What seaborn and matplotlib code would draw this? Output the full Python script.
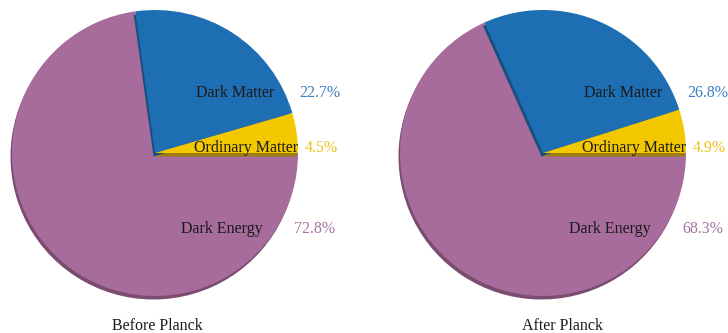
import matplotlib
matplotlib.use("Agg")
import matplotlib.pyplot as plt
import seaborn as sns

# Composition of the universe, in percent
categories = ["Ordinary Matter", "Dark Matter", "Dark Energy"]
before_planck = [4.5, 22.7, 72.8]
after_planck = [4.9, 26.8, 68.3]
panel_titles = ["Before Planck", "After Planck"]

sns.set_theme(style="white")
plt.rcParams["font.family"] = ["Liberation Serif", "DejaVu Serif"]

face_colors = ["#F3C800", "#1D6EB2", "#A76C9B"]
side_colors = ["#9C7E0C", "#15507F", "#7A4C70"]
pct_colors = ["#EFC21C", "#3C80C0", "#A872A2"]

W, H = 728, 333
fig = plt.figure(figsize=(W / 100, H / 100), dpi=100)
ax = fig.add_axes([0, 0, 1, 1])
ax.set_xlim(0, W)
ax.set_ylim(0, H)
ax.set_aspect("equal")
ax.axis("off")

radius = 143
centers = [(155, H - 153), (543, H - 153)]
title_x = [157, 562]
side_offset = (-1.5, -3.5)

# label offsets from the pie centre (x right, y up)
name_offsets = {"Dark Matter": (80, 60), "Ordinary Matter": (91, 5), "Dark Energy": (67, -76)}
pct_offsets = {"Dark Matter": (165, 60), "Ordinary Matter": (166, 5), "Dark Energy": (160, -76)}

for values, title, (cx, cy), tx in zip([before_planck, after_planck], panel_titles, centers, title_x):
    # darker extruded side, drawn slightly down and to the left
    sides, _ = ax.pie(values, colors=side_colors, startangle=0, counterclock=True,
                      radius=radius, center=(cx + side_offset[0], cy + side_offset[1]),
                      wedgeprops=dict(linewidth=0), frame=True)
    faces, _ = ax.pie(values, colors=face_colors, startangle=0, counterclock=True,
                      radius=radius, center=(cx, cy),
                      wedgeprops=dict(linewidth=0), frame=True)
    n = len(values)
    for i in range(n):
        # later wedges sit underneath earlier ones
        sides[i].set_zorder(2 * (n - i) - 1)
        faces[i].set_zorder(2 * (n - i))

    for cat, v, pc in zip(categories, values, pct_colors):
        dx, dy = name_offsets[cat]
        ax.text(cx + dx, cy + dy, cat, ha="center", va="center", fontsize=11.5,
                color="#1a1a1a", zorder=20)
        px, py = pct_offsets[cat]
        ax.text(cx + px, cy + py, f"{v:.1f}%", ha="center", va="center", fontsize=11.5,
                color=pc, zorder=20)

    ax.text(tx, H - 326, title, ha="center", va="center", fontsize=11.5, color="#1a1a1a")

ax.set_xlim(0, W)
ax.set_ylim(0, H)
ax.axis("off")
fig.savefig("out.png", dpi=100)
